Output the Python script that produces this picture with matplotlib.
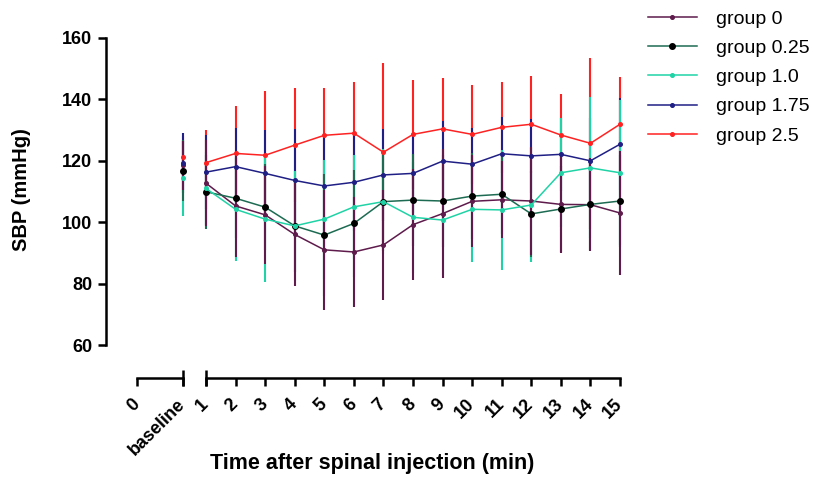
import numpy as np
import matplotlib
matplotlib.use('Agg')
import matplotlib.pyplot as plt

plt.rcParams['font.family'] = ['Liberation Sans', 'DejaVu Sans']
plt.rcParams['font.weight'] = 'bold'

# x categories: broken axis, "0" and "baseline" on the left part, minutes on the right
left_labels = ['0', 'baseline']
minutes = list(range(1, 16))

groups = ['group 0', 'group 0.25', 'group 1.0', 'group 1.75', 'group 2.5']
colors = ['#5e1b4c', '#1d6b52', '#20d3a6', '#1f1f85', '#ff2222']
marker_colors = ['#5e1b4c', '#000000', '#20d3a6', '#1f1f85', '#ff2222']

# baseline mean / SD per group
baseline = [118.6, 116.8, 114.3, 119.2, 121.1]
baseline_sd = [8.0, 10.0, 12.3, 9.8, 7.0]

# SBP mean per minute (1..15)
g0 = [112.7, 105.3, 102.4, 96.0, 91.0, 90.3, 92.6, 99.2, 102.8, 106.8, 107.3, 106.9, 105.8, 105.7, 103.0]
g025 = [109.9, 107.8, 104.9, 98.8, 95.8, 99.6, 106.7, 107.2, 106.9, 108.5, 109.1, 102.7, 104.3, 105.8, 106.9]
g10 = [111.0, 104.2, 101.0, 98.8, 101.0, 105.0, 106.7, 101.6, 100.7, 104.2, 104.0, 105.6, 116.1, 117.7, 116.1]
g175 = [116.3, 118.1, 115.9, 113.6, 111.8, 113.0, 115.4, 115.9, 119.9, 118.9, 122.3, 121.6, 122.1, 120.0, 125.4]
g25 = [119.4, 122.4, 121.8, 125.1, 128.3, 129.0, 122.8, 128.6, 130.4, 128.6, 130.9, 131.9, 128.4, 125.7, 131.9]

# SD per minute
sd0 = [14.0, 16.5, 16.0, 16.7, 19.5, 18.0, 18.0, 18.0, 21.0, 15.0, 12.5, 17.5, 15.8, 15.2, 20.3]
sd025 = [12.0, 13.0, 14.0, 15.0, 20.0, 17.4, 16.0, 15.0, 15.0, 14.0, 13.0, 14.0, 14.0, 15.0, 15.0]
sd10 = [12.0, 17.0, 20.6, 18.0, 19.4, 17.0, 17.0, 18.0, 18.0, 17.3, 19.6, 18.6, 17.7, 23.0, 23.6]
sd175 = [12.0, 12.5, 14.0, 16.7, 17.0, 16.0, 15.0, 13.0, 13.0, 11.7, 12.0, 12.0, 12.0, 14.0, 15.0]
sd25 = [10.6, 15.6, 20.9, 18.5, 15.5, 16.8, 29.2, 17.7, 16.5, 16.2, 14.9, 15.8, 13.3, 27.9, 15.5]

means = [g0, g025, g10, g175, g25]
sds = [sd0, sd025, sd10, sd175, sd25]
# which error bar ends up on top where they overlap
bar_order = [2.4, 2.3, 2.2, 2.1, 2.0]

W, H = 840, 482
fig = plt.figure(figsize=(W / 100, H / 100), dpi=100)


def box(x0, x1, y0=38, y1=345):
    return [x0 / W, 1 - y1 / H, (x1 - x0) / W, (y1 - y0) / H]


axL = fig.add_axes(box(137, 183))
axR = fig.add_axes(box(206, 620))

handles = []
for i in range(len(groups)):
    ms = 4.0 if i == 1 else 2.6
    eb = axL.errorbar([1], [baseline[i]], yerr=[baseline_sd[i]], fmt='none',
                      ecolor=colors[i], elinewidth=1.5, capsize=0, zorder=bar_order[i])
    for a in eb.lines[2]:
        a.set_clip_on(False)
    axL.plot([1], [baseline[i]], ls='none', marker='o', ms=ms,
             mfc=marker_colors[i], mec=marker_colors[i], zorder=3 + i * 0.1, clip_on=False)

    eb = axR.errorbar(minutes, means[i], yerr=sds[i], fmt='none',
                      ecolor=colors[i], elinewidth=1.5, capsize=0, zorder=bar_order[i])
    for a in eb.lines[2]:
        a.set_clip_on(False)
    h, = axR.plot(minutes, means[i], color=colors[i], lw=1.1, marker='o',
                  ms=ms, mfc=marker_colors[i], mec=marker_colors[i],
                  zorder=3 + i * 0.1, clip_on=False, label=groups[i])
    handles.append(h)

for ax in (axL, axR):
    ax.set_ylim(60, 160)
    ax.patch.set_alpha(0)
    ax.spines['top'].set_visible(False)
    ax.spines['right'].set_visible(False)
    ax.spines['bottom'].set_position(('outward', 23.8))
    ax.spines['bottom'].set_linewidth(1.8)
    ax.xaxis.remove_overlapping_locs = False
    ax.tick_params(axis='x', which='major', direction='out', length=6, width=1.8,
                   labelsize=13, pad=11)
    ax.tick_params(axis='x', which='minor', direction='inout', length=12, width=1.8)
    ax.set_xticks([1], minor=True)

axL.set_xlim(0, 1)
axL.set_xticks([0, 1])
axL.set_xticklabels(left_labels, rotation=45, ha='right', va='center', rotation_mode='anchor')
axL.spines['left'].set_position(('outward', 22.3))
axL.spines['left'].set_linewidth(1.8)
axL.set_yticks(np.arange(60, 161, 20))
axL.tick_params(axis='y', direction='out', length=6, width=1.8, labelsize=13, pad=4)

axR.set_xlim(1, 15)
axR.set_xticks(minutes)
axR.set_xticklabels([str(m) for m in minutes], rotation=45, ha='right', va='center',
                    rotation_mode='anchor')
axR.spines['left'].set_visible(False)
axR.tick_params(axis='y', left=False, labelleft=False)

fig.text(22 / W, 1 - 190 / H, 'SBP (mmHg)', rotation=90, ha='center', va='center',
         fontsize=14.5, fontweight='bold')
fig.text(372 / W, 1 - 463 / H, 'Time after spinal injection (min)', ha='center', va='center',
         fontsize=15.5, fontweight='bold')

fig.legend(handles=handles, loc='upper left', bbox_to_anchor=(648 / W, 1 - 10 / H),
           frameon=False, prop={'size': 14, 'weight': 'normal'}, handlelength=2.5,
           labelspacing=0.6, handletextpad=1.0, borderaxespad=0, borderpad=0)

fig.savefig('out.png', dpi=100)
